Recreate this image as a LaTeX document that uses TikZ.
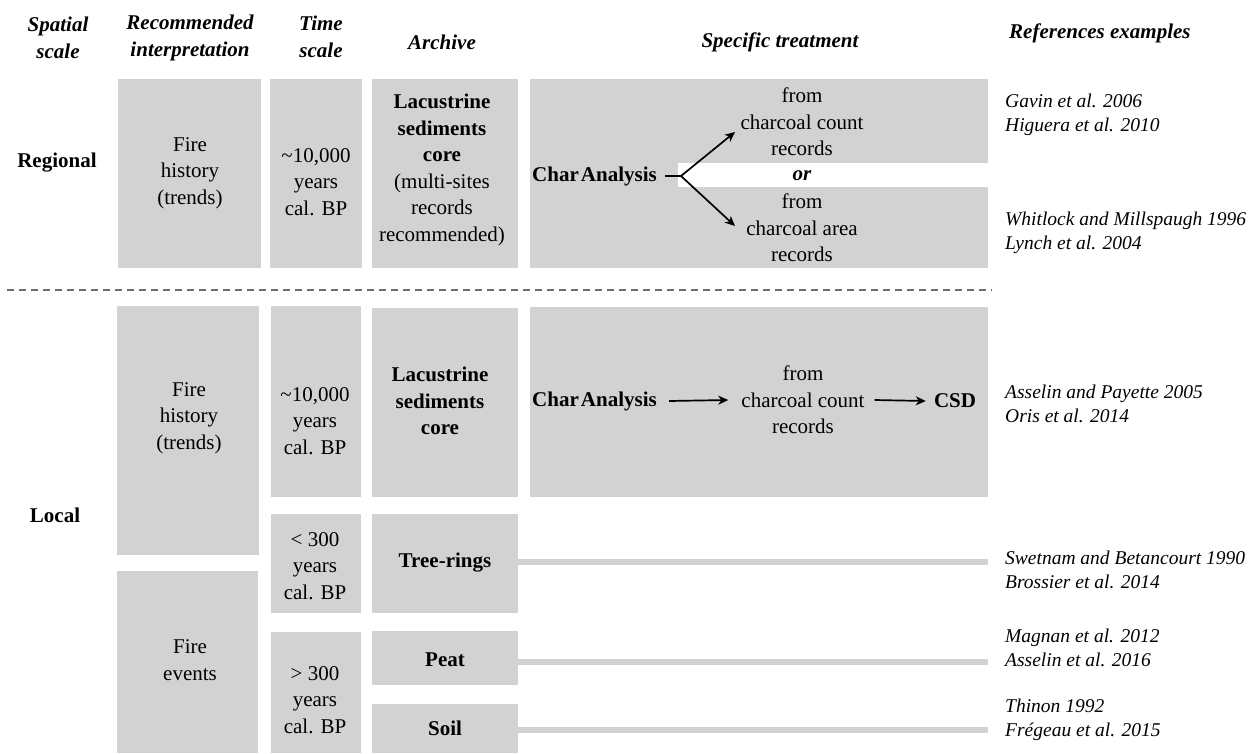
\documentclass[tikz,border=0pt]{standalone}
\usepackage{fontspec}
\setmainfont{Liberation Serif}
\usetikzlibrary{arrows.meta}
\definecolor{boxgray}{RGB}{210,210,210}
\definecolor{dashgray}{RGB}{110,110,110}
\newcommand\gbox[5]{\node[box, minimum width={#4-#2}, minimum height={#5-#3}] (#1) at ({(#2+#4)/2},{(#3+#5)/2}) {};}
\begin{document}
\begin{tikzpicture}[x=1pt,y=-1pt,
  box/.style={fill=boxgray, draw=none, inner sep=0pt, outer sep=0pt},
  txt/.style={align=center, inner sep=0pt, font=\fontsize{21}{26.5}\selectfont},
  btxt/.style={align=center, inner sep=0pt, font=\fontsize{21}{26.5}\selectfont\bfseries},
  head/.style={align=center, inner sep=0pt, font=\fontsize{21}{27}\selectfont\bfseries\itshape},
  ref/.style={align=left, anchor=west, inner sep=0pt, font=\fontsize{19.5}{24}\selectfont\itshape},
  arr/.style={-{Stealth[length=10pt,width=9pt,inset=3pt]}, line width=1.7pt},
  stub/.style={line width=1.7pt},
  link/.style={draw=boxgray, line width=6pt},
  sep/.style={draw=dashgray, line width=2pt, dash pattern=on 7pt off 5pt},
]
\useasboundingbox[fill=white] (0,0) rectangle (1256,753);

% headers
\node[head] (hS) at (58,38) {Spatial\\scale};
\node[head] (hR) at (190,38) {Recommended\\interpretation};
\node[head] (hT) at (321,37) {Time\\scale};
\node[head] (hA) at (442,42) {Archive};
\node[head] (hSp) at (780,42) {Specific treatment};
\node[head, anchor=west] (hRef) at (1009,33) {References examples};

% regional boxes
\gbox{rI}{118}{79}{261}{268}
\gbox{rT}{270}{79}{362}{268}
\gbox{rA}{372}{79}{518}{268}
\gbox{rS}{530}{79}{988}{268}
\fill[white] (678,163) rectangle (988,187);

\node[btxt] (reg) at (57,163) {Regional};
\node[txt] (rIt) at (190,173) {Fire\\history\\(trends)};
\node[txt] (rTt) at (316,182) {\textasciitilde10,000\\years\\cal. BP};
\node[txt] (rAt) at (442,170) {\textbf{Lacustrine}\\\textbf{sediments}\\\textbf{core}\\(multi-sites\\records\\recommended)};
\node[btxt, anchor=west] (rCA) at (532,176) {Char\hspace{0.1em}Analysis};
\coordinate (fork) at (681,176);
\coordinate (tipU) at (735,132);
\coordinate (tipD) at (735,226);
\draw[stub] ([xshift=8pt]rCA.east) -- (fork);
\draw[arr] (fork) -- (tipU);
\draw[arr] (fork) -- (tipD);
\node[txt] (rCC) at (802,122) {from\\charcoal count\\records};
\node[btxt, font=\fontsize{21}{26.5}\selectfont\bfseries\itshape] (orr) at (802,176) {or};
\node[txt] (rCR) at (802,228) {from\\charcoal area\\records};

\node[ref] (ref1) at (1005,115) {Gavin et al. 2006\\Higuera et al. 2010};
\node[ref] (ref2) at (1005,233) {Whitlock and Millspaugh 1996\\Lynch et al. 2004};

% separator
\coordinate (sepL) at (7,290);
\coordinate (sepR) at (992,290);
\draw[sep] (sepL) -- (sepR);

% local boxes
\gbox{lI1}{117}{306}{259}{555}
\gbox{lT1}{271}{306}{361}{497}
\gbox{lA1}{372}{308}{518}{497}
\gbox{lS1}{530}{307}{988}{497}
\gbox{lI2}{117}{571}{258}{753}
\gbox{lT2}{271}{514}{361}{613}
\gbox{lA2}{372}{514}{518}{613}
\gbox{lT3}{271}{632}{361}{753}
\gbox{lA3}{372}{631}{518}{685}
\gbox{lA4}{372}{704}{518}{753}

\node[btxt] (loc) at (55,515) {Local};
\node[txt] (lIt1) at (189,418) {Fire\\history\\(trends)};
\node[txt] (lTt1) at (315,421) {\textasciitilde10,000\\years\\cal. BP};
\node[btxt] (lAt1) at (440,401) {Lacustrine\\sediments\\core};
\node[btxt, anchor=west] (lCA) at (532,401) {Char\hspace{0.1em}Analysis};
\node[txt] (lCC) at (803,400) {from\\charcoal count\\records};
\node[btxt] (csd) at (955,401) {CSD};
\draw[arr] ([xshift=12pt]lCA.east) -- ([xshift=-13pt]lCC.west);
\draw[arr] ([xshift=10pt]lCC.east) -- ([xshift=-8pt]csd.west);

\node[txt] (lIt2) at (190,660) {Fire\\events};
\node[txt] (lTt2) at (315,566) {< 300\\years\\cal. BP};
\node[txt] (lTt3) at (315,700) {> 300\\years\\cal. BP};
\node[btxt] (lAt2) at (445,563) {Tree-rings};
\node[btxt] (lAt3) at (445,660) {Peat};
\node[btxt] (lAt4) at (445,728) {Soil};

\coordinate (e2) at (988,562);
\coordinate (e3) at (988,662);
\coordinate (e4) at (988,730);
\draw[link] (lA2.east |- e2) -- (e2);
\draw[link] (lA3.east |- e3) -- (e3);
\draw[link] (lA4.east |- e4) -- (e4);

\node[ref] (ref3) at (1005,404) {Asselin and Payette 2005\\Oris et al. 2014};
\node[ref] (ref4) at (1005,570) {Swetnam and Betancourt 1990\\Brossier et al. 2014};
\node[ref] (ref5) at (1005,648) {Magnan et al. 2012\\Asselin et al. 2016};
\node[ref] (ref6) at (1005,720) {Thinon 1992\\Frégeau et al. 2015};
\end{tikzpicture}
\end{document}
